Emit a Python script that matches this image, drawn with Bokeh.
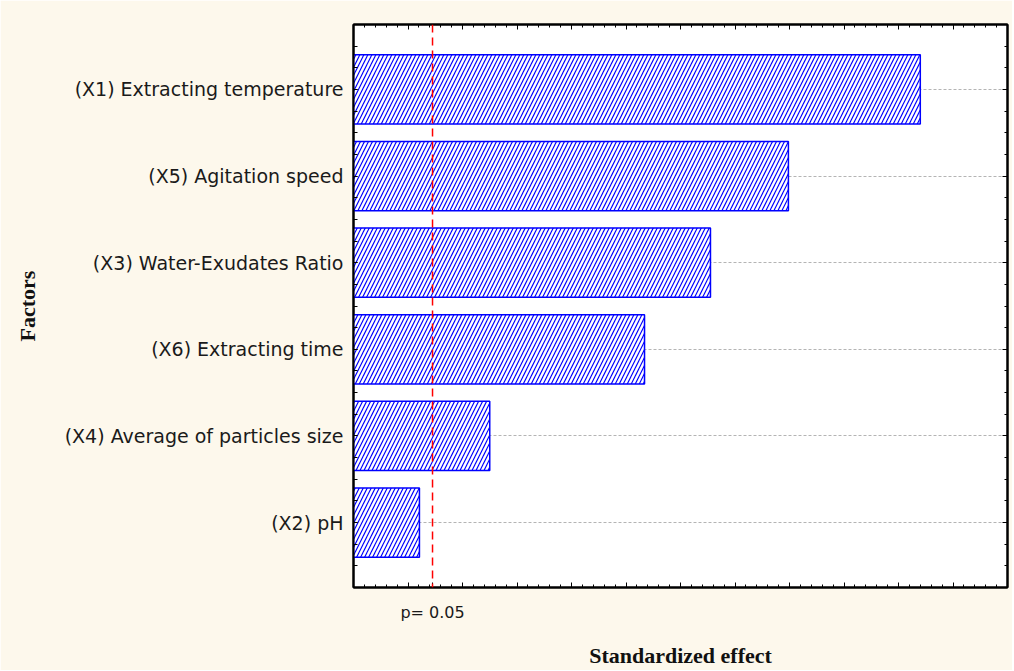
from bokeh.plotting import figure
from bokeh.models import Range1d, LinearAxis, FixedTicker, Span, CustomJSTickFormatter, Grid
from bokeh.embed import file_html
from bokeh.resources import INLINE

# ---- data ----
factors = ["(X1) Extracting temperature", "(X5) Agitation speed", "(X3) Water-Exudates Ratio",
           "(X6) Extracting time", "(X4) Average of particles size", "(X2) pH"]
effects = [10.40, 7.98, 6.55, 5.34, 2.50, 1.21]
p_line = 1.45
p_label = "p= 0.05"
x_title = "Standardized effect"
y_title = "Factors"

n = len(factors)
ypos = [n - i for i in range(n)]
x_major = list(range(0, 13))
x_minor = [round(i * 0.2, 3) for i in range(61)]
y_major = list(range(1, n + 1))
y_minor = [round(0.25 + 0.25 * k, 3) for k in range(27)]

BG = "#FDF8EC"
p = figure(width=1012, height=670, x_range=Range1d(0, 12), y_range=Range1d(0.25, 6.75),
           output_backend="svg", toolbar_location=None,
           x_axis_location=None, y_axis_location=None,
           background_fill_color="white", border_fill_color=BG,
           min_border_left=353, min_border_right=5, min_border_top=24, min_border_bottom=81)
p.outline_line_color = "black"
p.outline_line_width = 2
for g in p.grid:
    g.visible = False

grid = Grid(dimension=1, ticker=FixedTicker(ticks=y_major), grid_line_color="#b4b4b4",
            grid_line_dash="3 2", grid_line_width=1)
p.add_layout(grid)

p.hbar(y=ypos, right=effects, left=0, height=0.8, fill_color="white",
       line_color="#0000FF", line_width=1.5, hatch_pattern="/", hatch_color="#0000FF",
       hatch_scale=8, hatch_weight=1.2)

p.add_layout(Span(location=p_line, dimension="height", line_color="#FF0000",
                  line_dash="8 5", line_width=1.5))

def style_ticks(ax):
    ax.axis_line_color = "black"
    ax.axis_line_width = 2
    ax.major_tick_in = 5
    ax.major_tick_out = 0
    ax.minor_tick_in = 3
    ax.minor_tick_out = 0
    ax.major_tick_line_color = "black"
    ax.minor_tick_line_color = "black"

# bottom
bx = LinearAxis(ticker=FixedTicker(ticks=x_major + [p_line], minor_ticks=x_minor),
                formatter=CustomJSTickFormatter(args=dict(pv=p_line, lab=p_label),
                                                code="return Math.abs(tick - pv) < 1e-6 ? lab : '';"),
                axis_label=x_title)
style_ticks(bx)
bx.major_label_text_font = "DejaVu Sans"
bx.major_label_text_font_size = "16px"
bx.major_label_text_color = "#1a1a1a"
bx.major_label_standoff = 15
bx.axis_label_text_font = "Liberation Serif"
bx.axis_label_text_font_style = "bold"
bx.axis_label_text_font_size = "22px"
bx.axis_label_text_color = "#111111"
bx.axis_label_standoff = 18
p.add_layout(bx, "below")

# top
tx = LinearAxis(ticker=FixedTicker(ticks=x_major, minor_ticks=x_minor),
                formatter=CustomJSTickFormatter(code="return '';"))
style_ticks(tx)
tx.major_label_text_font_size = "0px"
tx.major_label_standoff = 0
p.add_layout(tx, "above")

# left
ly = LinearAxis(ticker=FixedTicker(ticks=y_major, minor_ticks=y_minor),
                formatter=CustomJSTickFormatter(args=dict(names=factors, pos=ypos),
                                                code="const i = pos.indexOf(Math.round(tick)); return i >= 0 ? names[i] : '';"),
                axis_label=y_title)
style_ticks(ly)
ly.major_tick_in = 4
ly.minor_tick_in = 4
ly.major_label_text_font = "DejaVu Sans"
ly.major_label_text_font_size = "19px"
ly.major_label_text_color = "#1a1a1a"
ly.major_label_standoff = 10
ly.axis_label_text_font = "Liberation Serif"
ly.axis_label_text_font_style = "bold"
ly.axis_label_text_font_size = "22px"
ly.axis_label_text_color = "#111111"
ly.axis_label_standoff = 22
p.add_layout(ly, "left")

# right
ry = LinearAxis(ticker=FixedTicker(ticks=y_major, minor_ticks=y_minor),
                formatter=CustomJSTickFormatter(code="return '';"))
style_ticks(ry)
ry.major_tick_in = 5
ry.minor_tick_in = 3
ry.major_label_text_font_size = "0px"
ry.major_label_standoff = 0
p.add_layout(ry, "right")

open("out.html", "w").write(file_html(p, INLINE))
